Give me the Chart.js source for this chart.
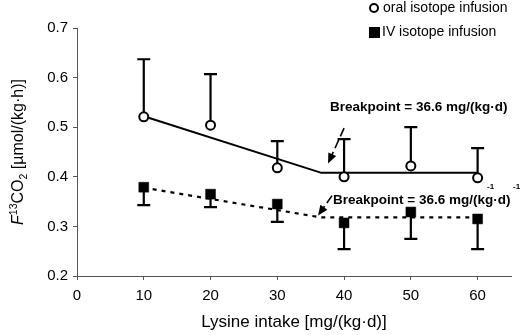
<!DOCTYPE html>
<html>
<head>
<meta charset="utf-8">
<script src="https://cdn.jsdelivr.net/npm/chart.js@4/dist/chart.umd.min.js"></script>
<style>
  html, body { margin: 0; padding: 0; background: #fff; }
  #wrap { width: 520px; height: 335px; position: relative; }
</style>
</head>
<body>
<div id="wrap"><canvas id="lysine-chart"></canvas></div>
<script>
Chart.defaults.font.family = 'Liberation Sans, Arial, sans-serif';
Chart.defaults.color = '#000';

const lysineIntake = [10, 20, 30, 40, 50, 60];
const oralValues = [0.521, 0.504, 0.418, 0.400, 0.422, 0.398];
const oralSD = [0.116, 0.103, 0.054, 0.076, 0.078, 0.060];
const ivValues = [0.379, 0.365, 0.345, 0.307, 0.329, 0.315];
const ivSD = [0.036, 0.026, 0.036, 0.053, 0.054, 0.061];

const breakpoint = 36.6;
const fitX = [10, breakpoint, 60];
const oralFit = [0.522, 0.408, 0.408];
const ivFit = [0.378, 0.318, 0.318];

const xTicks = [0, 10, 20, 30, 40, 50, 60];
const yTicks = [0.2, 0.3, 0.4, 0.5, 0.6, 0.7];

const toPoints = (xs, ys) => xs.map((x, i) => ({ x: x, y: ys[i] }));

// SD whiskers: up for oral, down for IV
const errorBars = {
  id: 'errorBars',
  beforeDatasetsDraw(chart) {
    const ctx = chart.ctx;
    const x = chart.scales.x, y = chart.scales.y;
    ctx.save();
    ctx.strokeStyle = '#000';
    ctx.lineWidth = 2.2;
    const bars = [[oralValues, oralSD, 1], [ivValues, ivSD, -1]];
    bars.forEach(([vals, sd, dir]) => {
      lysineIntake.forEach((xv, i) => {
        const px = x.getPixelForValue(xv);
        const p0 = y.getPixelForValue(vals[i]);
        const p1 = y.getPixelForValue(vals[i] + dir * sd[i]);
        ctx.beginPath();
        ctx.moveTo(px, p0);
        ctx.lineTo(px, p1);
        ctx.moveTo(px - 6.5, p1);
        ctx.lineTo(px + 6.5, p1);
        ctx.stroke();
      });
    });
    ctx.restore();
  }
};

function arrow(ctx, x0, y0, x1, y1) {
  ctx.beginPath();
  ctx.setLineDash([9, 4]);
  ctx.moveTo(x0, y0);
  const a = Math.atan2(y1 - y0, x1 - x0);
  ctx.lineTo(x1 - 8 * Math.cos(a), y1 - 8 * Math.sin(a));
  ctx.stroke();
  ctx.setLineDash([]);
  ctx.beginPath();
  ctx.moveTo(x1, y1);
  ctx.lineTo(x1 - 11 * Math.cos(a - 0.4), y1 - 11 * Math.sin(a - 0.4));
  ctx.lineTo(x1 - 11 * Math.cos(a + 0.4), y1 - 11 * Math.sin(a + 0.4));
  ctx.closePath();
  ctx.fill();
}

// legend, breakpoint notes and the y title with sub/superscripts
const decorations = {
  id: 'decorations',
  afterDraw(chart) {
    const ctx = chart.ctx;
    const x = chart.scales.x, y = chart.scales.y;
    ctx.save();
    ctx.fillStyle = '#000';
    ctx.strokeStyle = '#000';

    // legend
    ctx.font = '14px Liberation Sans, Arial, sans-serif';
    ctx.textBaseline = 'middle';
    ctx.lineWidth = 2;
    ctx.beginPath();
    ctx.arc(374, 8, 4, 0, Math.PI * 2);
    ctx.stroke();
    ctx.fillText(chart.data.datasets[0].label, 383, 8);
    ctx.fillRect(369, 27, 11, 11);
    ctx.fillText(chart.data.datasets[1].label, 382, 32);

    // breakpoint labels
    const bp = 'Breakpoint = ' + breakpoint + ' mg/(kg\u00b7d)';
    ctx.font = 'bold 13.5px Liberation Sans, Arial, sans-serif';
    ctx.textBaseline = 'alphabetic';
    ctx.fillText(bp, 330, 111);
    ctx.fillText(bp, 333, 204);
    ctx.font = 'bold 8px Liberation Sans, Arial, sans-serif';
    ctx.fillText('-1', 487, 189);
    ctx.fillText('-1', 513, 189);

    ctx.lineWidth = 1.6;
    arrow(ctx, x.getPixelForValue(40.0), y.getPixelForValue(0.498),
          x.getPixelForValue(37.6), y.getPixelForValue(0.427));
    arrow(ctx, x.getPixelForValue(38.2), y.getPixelForValue(0.362),
          x.getPixelForValue(36.1), y.getPixelForValue(0.322));

    // y axis title
    ctx.translate(23, 152);
    ctx.rotate(-Math.PI / 2);
    const parts = [
      ['italic 16px Liberation Sans, Arial, sans-serif', 'F', 0],
      ['10.5px Liberation Sans, Arial, sans-serif', '13', -6.5],
      ['16px Liberation Sans, Arial, sans-serif', 'CO', 0],
      ['10.5px Liberation Sans, Arial, sans-serif', '2', 4],
      ['16px Liberation Sans, Arial, sans-serif', ' [\u00b5mol/(kg\u00b7h)]', 0]
    ];
    let total = 0;
    parts.forEach(p => { ctx.font = p[0]; total += ctx.measureText(p[1]).width; });
    let cx = -total / 2;
    parts.forEach(p => {
      ctx.font = p[0];
      ctx.fillText(p[1], cx, p[2]);
      cx += ctx.measureText(p[1]).width;
    });
    ctx.restore();
  }
};

const data = {
  datasets: [{
    label: 'oral isotope infusion',
    data: toPoints(lysineIntake, oralValues),
    showLine: false,
    pointStyle: 'circle',
    pointRadius: 4.5,
    pointBorderWidth: 2,
    pointBackgroundColor: '#fff',
    pointBorderColor: '#000',
    order: 1
  }, {
    label: 'IV isotope infusion',
    data: toPoints(lysineIntake, ivValues),
    showLine: false,
    pointStyle: 'rect',
    pointRadius: 7,
    pointBorderWidth: 0.5,
    pointBackgroundColor: '#000',
    pointBorderColor: '#000',
    order: 2
  }, {
    label: 'oral fit',
    data: toPoints(fitX, oralFit),
    showLine: true,
    borderColor: '#000',
    borderWidth: 2,
    pointRadius: 0,
    order: 3
  }, {
    label: 'IV fit',
    data: toPoints(fitX, ivFit),
    showLine: true,
    borderColor: '#000',
    borderWidth: 2.2,
    borderDash: [4, 5],
    pointRadius: 0,
    order: 4
  }]
};

const options = {
  animation: false,
  responsive: true,
  maintainAspectRatio: false,
  layout: { padding: { top: 28, right: 9, left: 0, bottom: 0 } },
  plugins: {
    legend: { display: false },
    tooltip: { enabled: false }
  },
  scales: {
    x: {
      type: 'linear',
      min: 0,
      max: 65,
      afterBuildTicks: (scale) => { scale.ticks = xTicks.map(v => ({ value: v })); },
      afterFit: (scale) => { scale.height = 59; },
      grid: { drawOnChartArea: false, tickLength: 4, tickColor: '#555' },
      border: { color: '#555', width: 1 },
      ticks: { font: { size: 15 }, padding: 7, maxRotation: 0 },
      title: {
        display: true,
        text: 'Lysine intake [mg/(kg\u00b7d)]',
        font: { size: 17 },
        padding: { top: 4, bottom: 2 }
      }
    },
    y: {
      min: 0.2,
      max: 0.7,
      afterBuildTicks: (scale) => { scale.ticks = yTicks.map(v => ({ value: v })); },
      afterFit: (scale) => { scale.width = 77; },
      grid: { drawOnChartArea: false, tickLength: 4, tickColor: '#555' },
      border: { color: '#555', width: 1 },
      ticks: {
        font: { size: 15 },
        padding: 5,
        callback: (value) => value.toFixed(1)
      }
    }
  }
};

const ctx = document.getElementById('lysine-chart');
const lysineChart = new Chart(ctx, {
  type: 'scatter',
  data: data,
  options: options,
  plugins: [errorBars, decorations]
});
</script>
</body>
</html>
